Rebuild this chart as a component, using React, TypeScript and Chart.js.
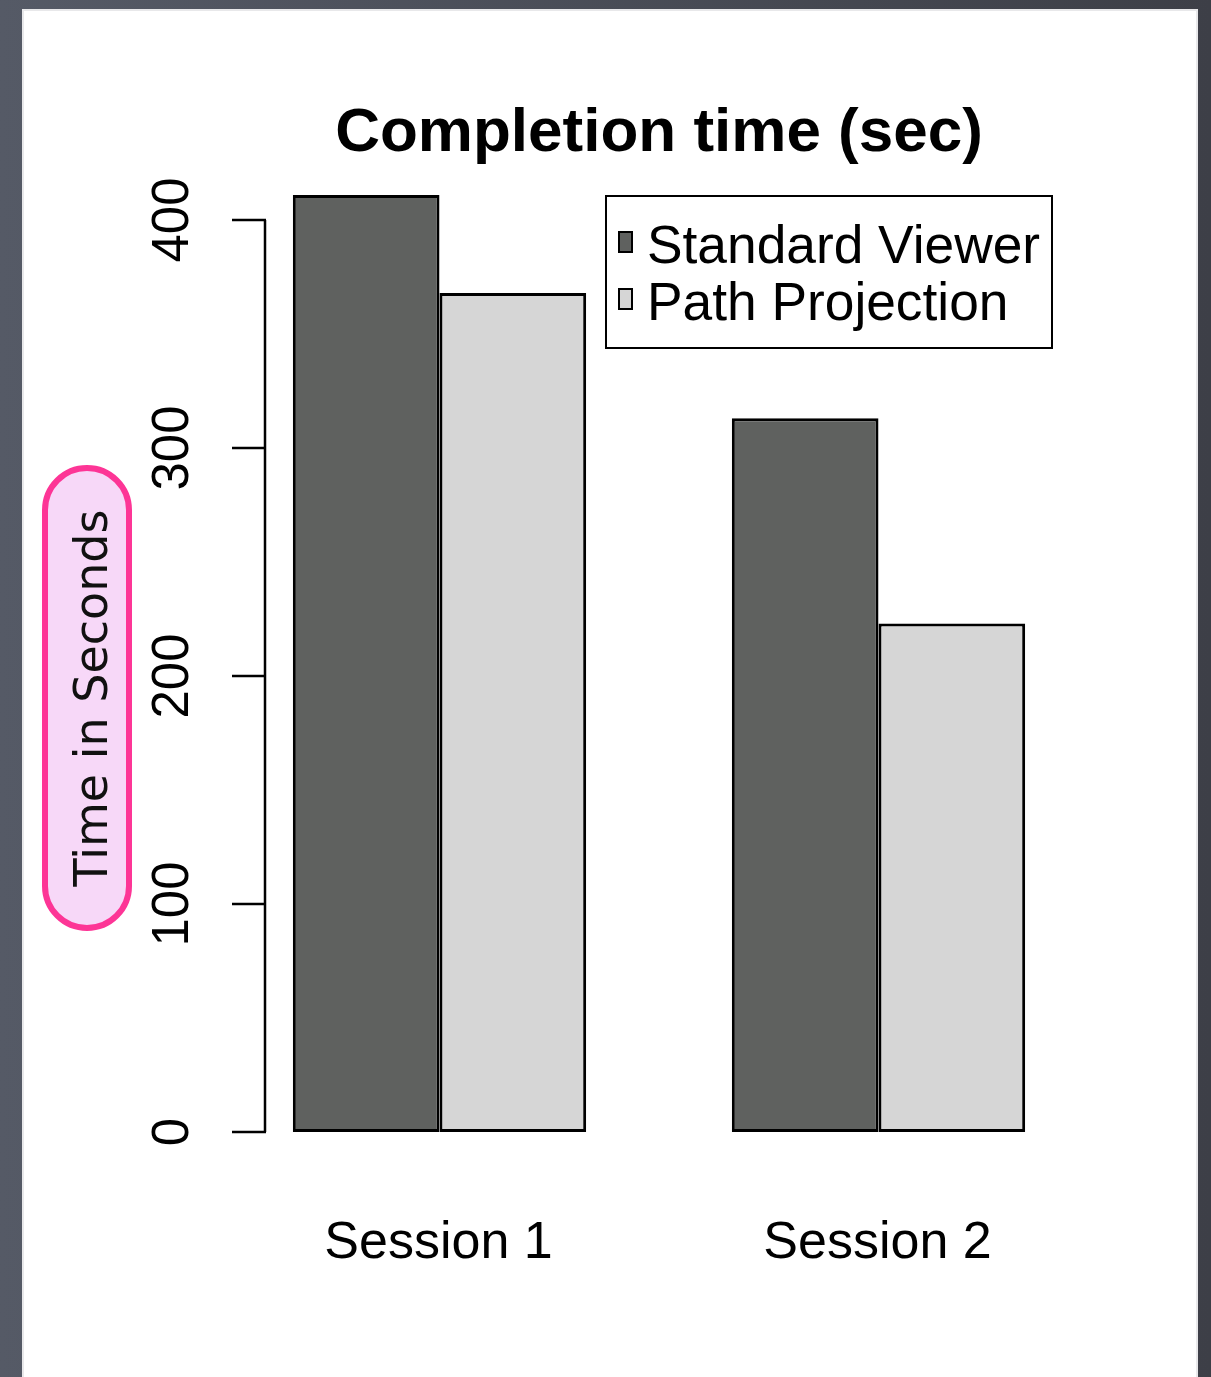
import React, { useEffect, useRef } from "react";
import { Chart, registerables } from "chart.js";

Chart.register(...registerables);

const categories = ["Session 1", "Session 2"];
const seriesNames = ["Standard Viewer", "Path Projection"];
const standardViewer = [411, 313];
const pathProjection = [368, 223];
const yTicks = [0, 100, 200, 300, 400];
const titleText = "Completion time (sec)";
const yAxisTitle = "Time in Seconds";

const DARK = "#5f615f";
const LIGHT = "#d6d6d6";

const decorPlugin = {
  id: "decor",
  beforeDraw(chart: any) {
    const { ctx, width, height } = chart;
    ctx.save();
    const g = ctx.createLinearGradient(0, 0, width, 0);
    g.addColorStop(0, "#555a66");
    g.addColorStop(1, "#3d3f47");
    ctx.fillStyle = g;
    ctx.fillRect(0, 0, width, height);
    ctx.fillStyle = "#e8e8ea";
    ctx.fillRect(22, 9, 1176, height);
    ctx.fillStyle = "#ffffff";
    ctx.fillRect(24, 11, 1172, height);
    ctx.restore();
  },
  afterDraw(chart: any) {
    const { ctx } = chart;
    const ys = chart.scales.y;
    const xs = chart.scales.x;
    ctx.save();
    // title
    ctx.fillStyle = "#000";
    ctx.font = "bold 62px 'Liberation Sans', Arial, sans-serif";
    ctx.textAlign = "center";
    ctx.textBaseline = "alphabetic";
    ctx.fillText(titleText, (chart.chartArea.left + chart.chartArea.right) / 2, 151);

    // y axis
    const axX = 265;
    ctx.strokeStyle = "#000";
    ctx.lineWidth = 2.5;
    ctx.lineCap = "butt";
    ctx.beginPath();
    ctx.moveTo(axX, ys.getPixelForValue(yTicks[0]));
    ctx.lineTo(axX, ys.getPixelForValue(yTicks[yTicks.length - 1]));
    ctx.stroke();
    ctx.font = "51px 'Liberation Sans', Arial, sans-serif";
    yTicks.forEach((v) => {
      const py = ys.getPixelForValue(v);
      ctx.beginPath();
      ctx.moveTo(232, py);
      ctx.lineTo(axX + 1, py);
      ctx.stroke();
      ctx.save();
      ctx.translate(188, py);
      ctx.rotate(-Math.PI / 2);
      ctx.textAlign = "center";
      ctx.textBaseline = "alphabetic";
      ctx.fillText(String(v), 0, 0);
      ctx.restore();
    });

    // x category labels
    ctx.font = "52px 'Liberation Sans', Arial, sans-serif";
    ctx.textAlign = "center";
    ctx.textBaseline = "alphabetic";
    categories.forEach((c, i) => {
      ctx.fillText(c, xs.getPixelForValue(i) - 1, 1258);
    });

    // legend
    ctx.lineWidth = 2;
    ctx.fillStyle = "#fff";
    ctx.fillRect(606, 196, 446, 152);
    ctx.strokeRect(606, 196, 446, 152);
    const colors = [DARK, LIGHT];
    const baselines = [263, 320];
    ctx.textAlign = "left";
    ctx.font = "53.3px 'Liberation Sans', Arial, sans-serif";
    seriesNames.forEach((n, i) => {
      const top = baselines[i] - 31;
      ctx.fillStyle = colors[i];
      ctx.fillRect(619, top, 13, 20);
      ctx.lineWidth = 2;
      ctx.strokeRect(619, top, 13, 20);
      ctx.fillStyle = "#000";
      ctx.fillText(n, 647, baselines[i]);
    });

    // y axis title pill
    const bx = 45, by = 468, bw = 84, bh = 460;
    const r = 42;
    ctx.beginPath();
    ctx.moveTo(bx + r, by);
    ctx.lineTo(bx + bw - r, by);
    ctx.arcTo(bx + bw, by, bx + bw, by + r, r);
    ctx.lineTo(bx + bw, by + bh - r);
    ctx.arcTo(bx + bw, by + bh, bx + bw - r, by + bh, r);
    ctx.lineTo(bx + r, by + bh);
    ctx.arcTo(bx, by + bh, bx, by + bh - r, r);
    ctx.lineTo(bx, by + r);
    ctx.arcTo(bx, by, bx + r, by, r);
    ctx.closePath();
    ctx.fillStyle = "#f7d8f8";
    ctx.fill();
    ctx.lineWidth = 6;
    ctx.strokeStyle = "#fd3596";
    ctx.stroke();
    ctx.save();
    ctx.translate(107, 698);
    ctx.rotate(-Math.PI / 2);
    ctx.fillStyle = "#111";
    ctx.font = "46px 'DejaVu Sans', Verdana, sans-serif";
    ctx.textAlign = "center";
    ctx.textBaseline = "alphabetic";
    ctx.fillText(yAxisTitle, 0, 0);
    ctx.restore();

    ctx.restore();
  },
};

export default function App() {
  const ref = useRef<HTMLCanvasElement | null>(null);
  useEffect(() => {
    if (!ref.current) return;
    const chart = new Chart(ref.current, {
      type: "bar",
      data: {
        labels: categories,
        datasets: [
          {
            label: seriesNames[0],
            data: standardViewer,
            backgroundColor: DARK,
            borderColor: "#000",
            borderWidth: 3,
            borderSkipped: false,
            clip: false as any,
          },
          {
            label: seriesNames[1],
            data: pathProjection,
            backgroundColor: LIGHT,
            borderColor: "#000",
            borderWidth: 3,
            borderSkipped: false,
            clip: false as any,
          },
        ],
      },
      options: {
        responsive: false,
        animation: false,
        layout: { padding: { left: 220, right: 113, top: 220, bottom: 245 } },
        datasets: { bar: { categoryPercentage: 294 / 440, barPercentage: 1 } },
        scales: {
          x: { display: false, offset: true },
          y: { display: false, min: 0, max: 400 },
        },
        plugins: {
          legend: { display: false },
          title: { display: false },
          tooltip: { enabled: false },
        },
      },
      plugins: [decorPlugin],
    });
    return () => chart.destroy();
  }, []);
  return (
    <div style={{ position: "absolute", left: 0, top: 0, width: 1211, height: 1377 }}>
      <canvas ref={ref} width={1211} height={1377} style={{ display: "block" }} />
    </div>
  );
}
